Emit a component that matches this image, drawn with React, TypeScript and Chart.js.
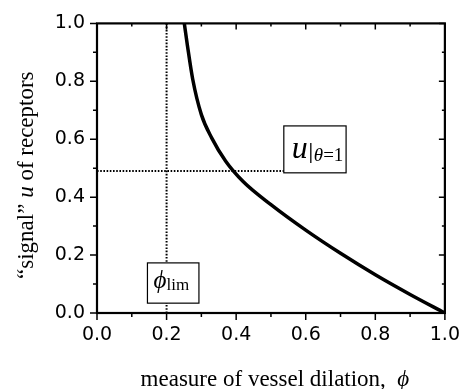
import React, { useEffect, useRef } from "react";
import { Chart, registerables } from "chart.js";
Chart.register(...registerables);

// Curve: "signal" u of receptors vs. measure of vessel dilation phi
const phiValues = [0.251, 0.26, 0.275, 0.3, 0.33, 0.37, 0.42, 0.5, 0.6, 0.7, 0.8, 0.9, 1.0];
const signalValues = [1.0, 0.923, 0.808, 0.685, 0.604, 0.524, 0.454, 0.374, 0.286, 0.206, 0.132, 0.064, 0.0];

// Guide lines
const phiLim = 0.2;
const uTheta1 = 0.49;
const uGuideEndPhi = 0.537;

// Annotation boxes (data units)
const uBoxX = [0.537, 0.716];
const uBoxY = [0.484, 0.646];
const limBoxX = [0.145, 0.293];
const limBoxY = [0.034, 0.173];

// Axes
const axisMin = 0;
const axisMax = 1;
const majorStep = 0.2;
const minorStep = 0.1;

const xTitle = "measure of vessel dilation,  ";
const xTitleSym = "\u03D5";
const yTitleParts = ["\u201Csignal\u201D ", "u", " of receptors"];

const SERIF = "'Liberation Serif', 'Times New Roman', serif";
const SANS = "'DejaVu Sans', sans-serif";
const TITLE_SIZE = 23;

const decorPlugin = {
  id: "decor",
  afterDatasetsDraw(chart: any) {
    const { ctx, chartArea } = chart;
    const xs = chart.scales.x;
    const ys = chart.scales.y;
    const { left, right, top, bottom } = chartArea;
    ctx.save();
    ctx.strokeStyle = "#000";
    ctx.fillStyle = "#000";

    // ticks
    ctx.lineWidth = 1.5;
    const n = Math.round((axisMax - axisMin) / minorStep);
    for (let i = 0; i <= n; i++) {
      const v = axisMin + i * minorStep;
      const major = i % 2 === 0;
      const outLen = major ? 7 : 4;
      const inLen = major ? 6 : 3;
      const px = xs.getPixelForValue(v);
      const py = ys.getPixelForValue(v);
      ctx.beginPath();
      ctx.moveTo(px, bottom);
      ctx.lineTo(px, bottom + outLen);
      ctx.moveTo(px, top);
      ctx.lineTo(px, top + inLen);
      ctx.moveTo(left, py);
      ctx.lineTo(left - outLen, py);
      ctx.moveTo(right, py);
      ctx.lineTo(right - inLen, py);
      ctx.stroke();
    }

    // frame
    ctx.lineWidth = 2.2;
    ctx.strokeRect(left, top, right - left, bottom - top);

    // boxes
    const drawBox = (bx: number[], by: number[]) => {
      const x0 = xs.getPixelForValue(bx[0]);
      const x1 = xs.getPixelForValue(bx[1]);
      const y0 = ys.getPixelForValue(by[1]);
      const y1 = ys.getPixelForValue(by[0]);
      ctx.fillStyle = "#fff";
      ctx.fillRect(x0, y0, x1 - x0, y1 - y0);
      ctx.lineWidth = 1.2;
      ctx.strokeStyle = "#000";
      ctx.strokeRect(x0, y0, x1 - x0, y1 - y0);
      ctx.fillStyle = "#000";
      return { x0, y0, x1, y1 };
    };
    ctx.textBaseline = "alphabetic";
    ctx.textAlign = "left";
    const b1 = drawBox(uBoxX, uBoxY);
    ctx.font = `italic 32px ${SERIF}`;
    ctx.fillText("u", b1.x0 + 8, b1.y0 + 32);
    ctx.lineWidth = 1.3;
    ctx.beginPath();
    ctx.moveTo(b1.x0 + 27, b1.y0 + 17);
    ctx.lineTo(b1.x0 + 27, b1.y0 + 37);
    ctx.stroke();
    ctx.font = `italic 19px ${SERIF}`;
    ctx.fillText("\u03B8", b1.x0 + 30, b1.y0 + 35);
    const thW = ctx.measureText("\u03B8").width;
    ctx.font = `19px ${SERIF}`;
    ctx.fillText("=1", b1.x0 + 30 + thW, b1.y0 + 35);

    const b2 = drawBox(limBoxX, limBoxY);
    ctx.font = `italic 25px ${SERIF}`;
    ctx.fillText("\u03D5", b2.x0 + 6, b2.y0 + 25);
    ctx.font = `17px ${SERIF}`;
    ctx.fillText("lim", b2.x0 + 19, b2.y0 + 27);

    // x title
    ctx.font = `${TITLE_SIZE}px ${SERIF}`;
    const w1 = ctx.measureText(xTitle).width;
    ctx.font = `italic ${TITLE_SIZE}px ${SERIF}`;
    const w2 = ctx.measureText(xTitleSym).width;
    const cx = (left + right) / 2 + 4;
    const sx = cx - (w1 + w2) / 2;
    ctx.font = `${TITLE_SIZE}px ${SERIF}`;
    ctx.fillText(xTitle, sx, 386);
    ctx.font = `italic ${TITLE_SIZE}px ${SERIF}`;
    ctx.fillText(xTitleSym, sx + w1, 386);

    // y title
    const fonts = [`${TITLE_SIZE}px ${SERIF}`, `italic ${TITLE_SIZE}px ${SERIF}`, `${TITLE_SIZE}px ${SERIF}`];
    const widths = yTitleParts.map((t, i) => {
      ctx.font = fonts[i];
      return ctx.measureText(t).width;
    });
    const total = widths.reduce((a, b) => a + b, 0);
    ctx.translate(33, (top + bottom) / 2 + 7);
    ctx.rotate(-Math.PI / 2);
    let tx = -total / 2;
    yTitleParts.forEach((t, i) => {
      ctx.font = fonts[i];
      ctx.fillText(t, tx, 0);
      tx += widths[i];
    });
    ctx.restore();
  },
};

export default function App() {
  const ref = useRef<HTMLCanvasElement>(null);
  useEffect(() => {
    if (!ref.current) return;
    const tickFont = { family: SANS, size: 19 };
    const chart = new Chart(ref.current, {
      type: "line",
      data: {
        datasets: [
          {
            data: phiValues.map((x, i) => ({ x, y: signalValues[i] })),
            borderColor: "#000",
            borderWidth: 3.5,
            pointRadius: 0,
            cubicInterpolationMode: "monotone",
            order: 0,
          },
          {
            data: [
              { x: phiLim, y: axisMin },
              { x: phiLim, y: axisMax },
            ],
            borderColor: "#000",
            borderWidth: 2,
            borderDash: [1.6, 1.6],
            pointRadius: 0,
            order: 1,
          },
          {
            data: [
              { x: axisMin, y: uTheta1 },
              { x: uGuideEndPhi, y: uTheta1 },
            ],
            borderColor: "#000",
            borderWidth: 2,
            borderDash: [1.6, 1.6],
            pointRadius: 0,
            order: 2,
          },
        ],
      },
      options: {
        responsive: false,
        animation: false,
        layout: { padding: { left: 0, right: 22, top: 19, bottom: 0 } },
        plugins: { legend: { display: false }, tooltip: { enabled: false } },
        scales: {
          x: {
            type: "linear",
            min: axisMin,
            max: axisMax,
            ticks: {
              stepSize: majorStep,
              font: tickFont,
              color: "#000",
              padding: 11,
              maxRotation: 0,
              autoSkip: false,
              callback: (v: any) => Number(v).toFixed(1),
            },
            grid: { display: false, drawTicks: false },
            border: { display: false },
            afterFit: (s: any) => {
              s.height = 76;
            },
          },
          y: {
            type: "linear",
            min: axisMin,
            max: axisMax,
            ticks: {
              stepSize: majorStep,
              font: tickFont,
              color: "#000",
              padding: 12,
              autoSkip: false,
              callback: (v: any) => Number(v).toFixed(1),
            },
            grid: { display: false, drawTicks: false },
            border: { display: false },
            afterFit: (s: any) => {
              s.width = 97;
            },
          },
        },
      },
      plugins: [decorPlugin],
    } as any);
    return () => chart.destroy();
  }, []);
  return (
    <div style={{ position: "absolute", left: 0, top: 0, width: 471, height: 389, background: "#fff" }}>
      <canvas ref={ref} width={471} height={389} />
    </div>
  );
}
